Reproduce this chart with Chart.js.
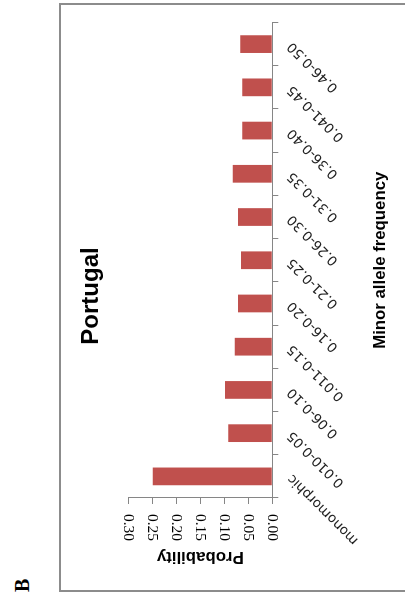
<!DOCTYPE html>
<html>
<head>
<meta charset="utf-8">
<script src="https://cdn.jsdelivr.net/npm/chart.js@4"></script>
<style>
  html, body { margin:0; padding:0; background:#fff; overflow:hidden; }
  /* the figure is drawn upright, then turned a quarter left like the scan */
  #page { position:absolute; left:0; top:0; width:602px; height:405px;
          transform-origin:0 0; transform:translate(0,602px) rotate(-90deg); }
  #frame { position:absolute; left:10px; top:59px; width:589px; height:420px;
           box-sizing:border-box; border:2px solid #8c8c8c; }
  #panel { position:absolute; left:10px; top:12px; font:bold 20px "Liberation Serif", serif; line-height:1; }
  canvas { position:absolute; left:0; top:0; }
</style>
</head>
<body>
<div id="page">
  <div id="frame"></div>
  <div id="panel">B</div>
  <canvas id="chart" width="602" height="405"></canvas>
</div>
<script>
// === data ===
const categories = ["monomorphic","0.010-0.05","0.06-0.10","0.011-0.15","0.16-0.20","0.21-0.25",
                    "0.26-0.30","0.31-0.35","0.36-0.40","0.041-0.45","0.46-0.50"];
const probability = [0.249, 0.092, 0.0985, 0.078, 0.0715, 0.065, 0.0715, 0.0825, 0.0625, 0.0625, 0.067];
const valueTicks  = [0, 0.05, 0.10, 0.15, 0.20, 0.25, 0.30];

// === style ===
const AXIS = "#868686";
const BAR  = "#C0504D";
const sansBold = size => ({ family: "Liberation Sans", size, weight: "bold" });

new Chart(document.getElementById("chart"), {
  type: "bar",
  data: { labels: categories,
    datasets: [{ data: probability, backgroundColor: BAR, barPercentage: 0.41, categoryPercentage: 1 }] },
  options: {
    responsive: false, animation: false,
    layout: { padding: { left: 32.5, right: 22.5, top: 50, bottom: 0 } },
    plugins: {
      legend: { display: false }, tooltip: { enabled: false },
      title: { display: true, text: "Portugal", color: "#000", font: sansBold(24),
               padding: { top: 26.6, bottom: 22.9 } }
    },
    scales: {
      x: {
        grid: { display: true, drawOnChartArea: false, tickLength: 6, color: AXIS, offset: true },
        border: { color: AXIS },
        ticks: { autoSkip: false, minRotation: 45, maxRotation: 45, padding: 6, color: "#222",
                 font: { family: "DejaVu Sans", size: 13.5 } },
        title: { display: true, text: "Minor allele frequency", color: "#000", font: sansBold(16.8),
                 padding: { top: 0, bottom: 14.9 } },
        afterFit: s => { s.height = 132.7; }
      },
      y: {
        min: 0, max: 0.3,
        afterBuildTicks: s => { s.ticks = valueTicks.map(v => ({ value: v })); },
        grid: { display: true, drawOnChartArea: false, tickLength: 6, color: AXIS },
        border: { color: AXIS },
        // value labels are turned upside down in the source figure
        ticks: { autoSkip: false, minRotation: 180, maxRotation: 180, crossAlign: "center", padding: 9.9,
                 color: "#000", font: { family: "Liberation Serif", size: 15.5 },
                 callback: v => Number(v).toFixed(2) },
        title: { display: true, text: "Probability", color: "#000", font: sansBold(16.8),
                 padding: { top: 2.9, bottom: 0 } },
        afterFit: s => { s.width = 71.5; }
      }
    }
  }
});
</script>
</body>
</html>
